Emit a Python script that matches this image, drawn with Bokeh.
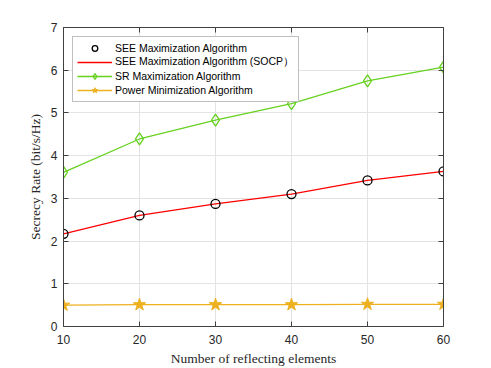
from bokeh.plotting import figure
from bokeh.models import LinearAxis, FixedTicker, Range1d, Legend, LegendItem
from bokeh.embed import file_html
from bokeh.resources import INLINE

elements = [10, 20, 30, 40, 50, 60]
see_rate = [2.17, 2.60, 2.87, 3.10, 3.42, 3.63]
see_socp_rate = [2.17, 2.60, 2.87, 3.10, 3.42, 3.63]
sr_rate = [3.61, 4.39, 4.83, 5.22, 5.75, 6.07]
power_rate = [0.50, 0.51, 0.51, 0.51, 0.52, 0.52]
x_ticks = [10, 20, 30, 40, 50, 60]
y_ticks = [0, 1, 2, 3, 4, 5, 6, 7]

labels = ["SEE Maximization Algorithm",
          "SEE Maximization Algorithm (SOCP）",
          "SR Maximization Algorithm",
          "Power Minimization Algorithm"]

RED = "#FF0000"
GREEN = "#66D11F"
ORANGE = "#EDB120"
AXC = "#404040"

p = figure(width=491, height=368, output_backend="svg", toolbar_location=None,
           x_range=Range1d(10, 60), y_range=Range1d(0, 7),
           min_border_left=63, min_border_right=48, min_border_top=27, min_border_bottom=41)
p.outline_line_color = None

r_sr_l = p.line(elements, sr_rate, line_color=GREEN, line_width=1.3)
r_sr_m = p.scatter(elements, sr_rate, marker="diamond", size=12, fill_color=None,
                   line_color=GREEN, line_width=1.3)
r_red = p.line(elements, see_socp_rate, line_color=RED, line_width=1.3)
r_circ = p.scatter(elements, see_rate, marker="circle", size=9, fill_color=None,
                   line_color="black", line_width=1.3)
r_pw_l = p.line(elements, power_rate, line_color=ORANGE, line_width=1.3)
r_pw_m = p.scatter(elements, power_rate, marker="star", size=13, fill_color=ORANGE,
                   line_color=ORANGE, line_width=1)

for ax in (p.xaxis[0], p.yaxis[0]):
    ax.major_tick_in = 5
    ax.major_tick_out = 0
    ax.minor_tick_line_color = None
    ax.axis_line_color = AXC
    ax.major_tick_line_color = AXC
    ax.major_label_text_font = "Liberation Sans"
    ax.major_label_text_font_size = "12px"
    ax.major_label_text_color = "#262626"
    ax.axis_label_text_font = "Liberation Serif"
    ax.axis_label_text_font_size = "13.5px"
    ax.axis_label_text_font_style = "normal"
    ax.axis_label_text_color = "#262626"

p.xaxis.ticker = FixedTicker(ticks=x_ticks)
p.yaxis.ticker = FixedTicker(ticks=y_ticks)
p.xaxis.axis_label = "Number of reflecting elements"
p.yaxis.axis_label = "Secrecy Rate (bit/s/Hz)"
p.xaxis.major_label_standoff = 8
p.xaxis.axis_label_standoff = 4
p.yaxis.major_label_standoff = 6
p.yaxis.axis_label_standoff = 5

top = LinearAxis(ticker=FixedTicker(ticks=x_ticks),
                 major_label_overrides={t: "" for t in x_ticks},
                 major_tick_in=5, major_tick_out=0, minor_tick_line_color=None,
                 axis_line_color=AXC, major_tick_line_color=AXC)
right = LinearAxis(ticker=FixedTicker(ticks=y_ticks),
                   major_label_overrides={t: "" for t in y_ticks},
                   major_tick_in=5, major_tick_out=0, minor_tick_line_color=None,
                   axis_line_color=AXC, major_tick_line_color=AXC)
p.add_layout(top, "above")
p.add_layout(right, "right")

p.xgrid.ticker = FixedTicker(ticks=x_ticks)
p.ygrid.ticker = FixedTicker(ticks=y_ticks)
p.grid.grid_line_color = "#E3E3E3"
p.grid.grid_line_width = 1

legend = Legend(items=[
    LegendItem(label=labels[0], renderers=[r_circ]),
    LegendItem(label=labels[1], renderers=[r_red]),
    LegendItem(label=labels[2], renderers=[r_sr_l, r_sr_m]),
    LegendItem(label=labels[3], renderers=[r_pw_l, r_pw_m]),
], location="top_left")
legend.margin = 9
legend.padding = 4
legend.spacing = 0
legend.glyph_width = 35
legend.glyph_height = 14
legend.label_height = 14
legend.label_standoff = 3
legend.label_text_font = "Liberation Sans"
legend.label_text_font_size = "10.5px"
legend.label_text_color = "black"
legend.border_line_color = "#7F7F7F"
legend.border_line_width = 1
legend.background_fill_color = "white"
legend.background_fill_alpha = 1
p.add_layout(legend, "center")

open("out.html", "w").write(file_html(p, INLINE))
